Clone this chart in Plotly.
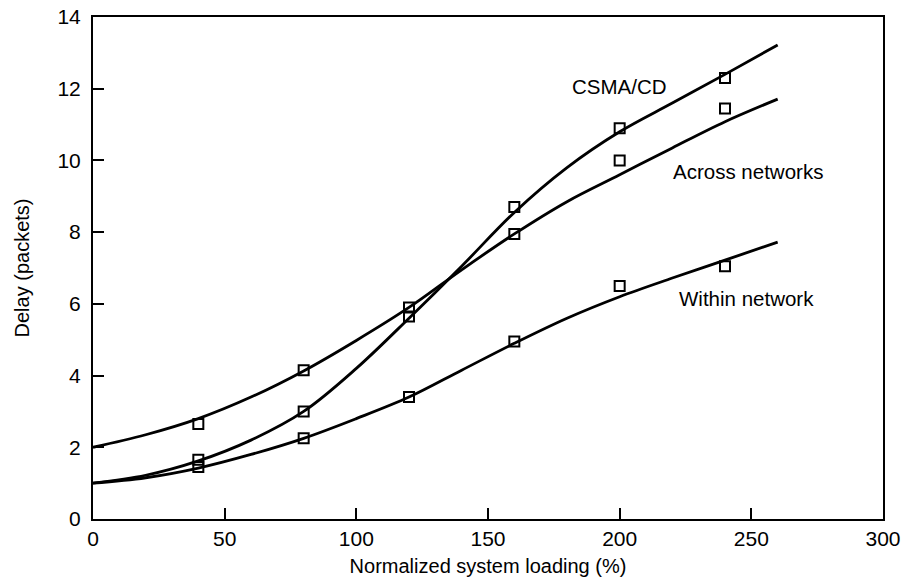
import plotly.graph_objects as go

# Measured points
load_pts = [40, 80, 120, 160, 200, 240]
csma_pts = [1.65, 3.0, 5.65, 8.7, 10.9, 12.3]
across_pts = [2.65, 4.15, 5.9, 7.95, 10.0, 11.45]
within_pts = [1.45, 2.25, 3.4, 4.95, 6.5, 7.05]

# Fitted curves
curve_x = [0, 20, 40, 60, 80, 100, 120, 140, 160, 180, 200, 220, 240, 260]
csma_curve = [1.0, 1.22, 1.62, 2.2, 3.0, 4.2, 5.6, 7.05, 8.55, 9.8, 10.8, 11.6, 12.4, 13.22]
across_curve = [2.0, 2.35, 2.8, 3.4, 4.13, 4.98, 5.9, 6.95, 7.95, 8.85, 9.6, 10.35, 11.08, 11.71]
within_curve = [1.0, 1.15, 1.42, 1.8, 2.25, 2.8, 3.4, 4.15, 4.9, 5.6, 6.2, 6.72, 7.22, 7.72]

labels = ["CSMA/CD", "Across networks", "Within network"]
label_pos = [(199.8, 12.05), (248.8, 9.7), (248.0, 6.16)]

FONT = "Liberation Sans, Arial, Helvetica, sans-serif"

fig = go.Figure()
for cy in [csma_curve, across_curve, within_curve]:
    fig.add_trace(go.Scatter(x=curve_x, y=cy, mode="lines",
                             line=dict(color="black", width=2.8, shape="spline", smoothing=1.0),
                             showlegend=False, hoverinfo="skip"))
for py in [csma_pts, across_pts, within_pts]:
    fig.add_trace(go.Scatter(x=load_pts, y=py, mode="markers",
                             marker=dict(symbol="square-open", size=10, color="black",
                                         line=dict(color="black", width=2)),
                             showlegend=False))

for text, (lx, ly) in zip(labels, label_pos):
    fig.add_annotation(x=lx, y=ly, text=text, showarrow=False,
                       font=dict(family=FONT, size=20.5, color="black"),
                       xanchor="center", yanchor="middle")

axis_common = dict(
    showgrid=False, zeroline=False, showline=True, linecolor="black", linewidth=2,
    mirror=True, ticks="inside", ticklen=11, tickwidth=2, tickcolor="black",
    tickfont=dict(family=FONT, size=21, color="black"),
)

fig.update_layout(
    width=917, height=588,
    margin=dict(l=93, r=34, t=17, b=69, autoexpand=False),
    paper_bgcolor="white", plot_bgcolor="white",
    font=dict(family=FONT, color="black"),
    xaxis=dict(range=[0, 300], tickvals=[0, 50, 100, 150, 200, 250, 300],
               title=dict(text="Normalized system loading (%)",
                          font=dict(family=FONT, size=20, color="black"), standoff=10),
               **axis_common),
    yaxis=dict(range=[0, 14], tickvals=[0, 2, 4, 6, 8, 10, 12, 14],
               ticklabelstandoff=6,
               title=dict(text="Delay (packets)",
                          font=dict(family=FONT, size=20, color="black"), standoff=22),
               **axis_common),
)

fig.write_html("out.html")
